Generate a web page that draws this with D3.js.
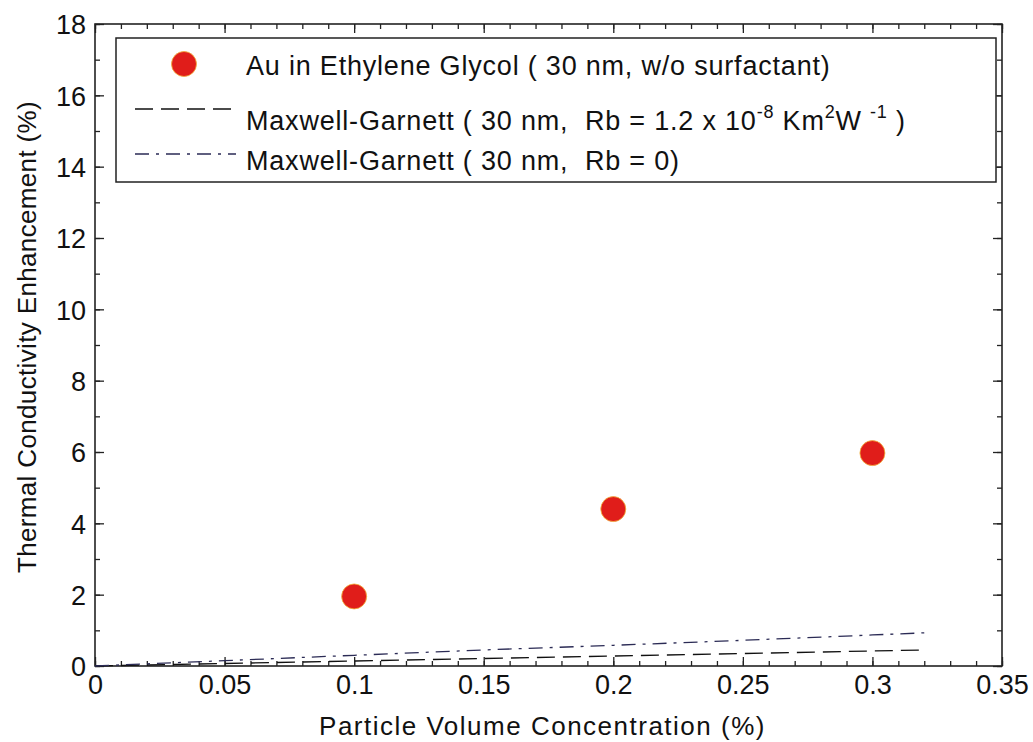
<!DOCTYPE html>
<html>
<head>
<meta charset="utf-8">
<script src="https://cdn.jsdelivr.net/npm/d3@7"></script>
<style>
  html, body { margin: 0; padding: 0; background: #fff; }
  svg { display: block; font-family: "Liberation Sans", Arial, Helvetica, sans-serif; }
</style>
</head>
<body>
<svg id="chart" width="1033" height="742"></svg>
<script>
// ---- data ----
const expX = [0.1, 0.2, 0.3];
const expY = [1.95, 4.4, 5.97];

const mgX = [0, 0.05, 0.1, 0.15, 0.2, 0.25, 0.3, 0.32];
const mgRbY = [0, 0.07, 0.14, 0.21, 0.28, 0.35, 0.42, 0.45];   // Rb = 1.2e-8
const mgZeroY = [0, 0.15, 0.3, 0.45, 0.58, 0.72, 0.87, 0.93]; // Rb = 0

const xTicks = [0, 0.05, 0.1, 0.15, 0.2, 0.25, 0.3, 0.35];
const xTickLabels = ["0", "0.05", "0.1", "0.15", "0.2", "0.25", "0.3", "0.35"];
const yTicks = [0, 2, 4, 6, 8, 10, 12, 14, 16, 18];

const xTitle = "Particle Volume Concentration (%)";
const yTitle = "Thermal Conductivity Enhancement (%)";

// ---- layout ----
const L = 95, R = 1002, T = 24, B = 666;
const svg = d3.select("#chart");
const x = d3.scaleLinear().domain([0, 0.35]).range([L, R]);
const y = d3.scaleLinear().domain([0, 18]).range([B, T]);

const minorX = d3.range(0, 36).map(i => i / 100);
const minorY = d3.range(0, 19);

function styleAxis(g) {
  g.select(".domain").remove();
  g.selectAll(".tick line").attr("stroke", "#222").attr("stroke-width", 1.3);
}

// minor ticks
svg.append("g").attr("transform", `translate(0,${B})`)
  .call(d3.axisBottom(x).tickValues(minorX).tickSize(-5).tickFormat(""))
  .call(styleAxis);
svg.append("g").attr("transform", `translate(0,${T})`)
  .call(d3.axisTop(x).tickValues(minorX).tickSize(-5).tickFormat(""))
  .call(styleAxis);
svg.append("g").attr("transform", `translate(${L},0)`)
  .call(d3.axisLeft(y).tickValues(minorY).tickSize(-5).tickFormat(""))
  .call(styleAxis);
svg.append("g").attr("transform", `translate(${R},0)`)
  .call(d3.axisRight(y).tickValues(minorY).tickSize(-5).tickFormat(""))
  .call(styleAxis);

// major ticks
const xb = svg.append("g").attr("transform", `translate(0,${B})`)
  .call(d3.axisBottom(x).tickValues(xTicks).tickSize(-9).tickFormat((d, i) => xTickLabels[i]))
  .call(styleAxis);
xb.selectAll(".tick text").attr("y", 28).attr("dy", 0)
  .attr("font-size", 27).attr("fill", "#111").attr("font-family", "Liberation Sans, Arial, sans-serif");

svg.append("g").attr("transform", `translate(0,${T})`)
  .call(d3.axisTop(x).tickValues(xTicks).tickSize(-9).tickFormat(""))
  .call(styleAxis);

const yl = svg.append("g").attr("transform", `translate(${L},0)`)
  .call(d3.axisLeft(y).tickValues(yTicks).tickSize(-9).tickFormat(d3.format("d")))
  .call(styleAxis);
yl.selectAll(".tick text").attr("x", -9).attr("dy", "0.36em")
  .attr("font-size", 27).attr("fill", "#111").attr("font-family", "Liberation Sans, Arial, sans-serif");

svg.append("g").attr("transform", `translate(${R},0)`)
  .call(d3.axisRight(y).tickValues(yTicks).tickSize(-9).tickFormat(""))
  .call(styleAxis);

// frame
svg.append("rect").attr("x", L).attr("y", T).attr("width", R - L).attr("height", B - T)
  .attr("fill", "none").attr("stroke", "#222").attr("stroke-width", 1.6);

// lines
const line = d3.line().x(d => x(d[0])).y(d => y(d[1]));
svg.append("path").datum(mgX.map((v, i) => [v, mgRbY[i]]))
  .attr("d", line).attr("fill", "none").attr("stroke", "#111").attr("stroke-width", 1.3)
  .attr("stroke-dasharray", "18,8");
svg.append("path").datum(mgX.map((v, i) => [v, mgZeroY[i]]))
  .attr("d", line).attr("fill", "none").attr("stroke", "#2b2b55").attr("stroke-width", 1.3)
  .attr("stroke-dasharray", "14,7,3,7");

// points
svg.append("g").selectAll("circle").data(expX.map((v, i) => [v, expY[i]]))
  .join("circle")
  .attr("cx", d => x(d[0])).attr("cy", d => y(d[1])).attr("r", 12.5)
  .attr("fill", "#e01d1a").attr("stroke", "#f3b23a").attr("stroke-width", 0.8);

// legend
const lg = svg.append("g");
lg.append("rect").attr("x", 116).attr("y", 38).attr("width", 880).attr("height", 144)
  .attr("fill", "#fff").attr("stroke", "#222").attr("stroke-width", 1.5);
lg.append("circle").attr("cx", 184).attr("cy", 64).attr("r", 12.5)
  .attr("fill", "#e01d1a").attr("stroke", "#f3b23a").attr("stroke-width", 0.8);
lg.append("line").attr("x1", 135).attr("x2", 236).attr("y1", 109).attr("y2", 109)
  .attr("stroke", "#111").attr("stroke-width", 1.3).attr("stroke-dasharray", "18,8");
lg.append("line").attr("x1", 135).attr("x2", 236).attr("y1", 154).attr("y2", 154)
  .attr("stroke", "#2b2b55").attr("stroke-width", 1.3).attr("stroke-dasharray", "14,7,3,7");

const fs = 27, ls = 0.8;
lg.append("text").attr("x", 246).attr("y", 75).attr("font-size", fs).attr("letter-spacing", ls)
  .attr("fill", "#111")
  .text("Au in Ethylene Glycol ( 30 nm, w/o surfactant)");

const t2 = lg.append("text").attr("x", 246).attr("y", 130).attr("font-size", fs).attr("letter-spacing", ls)
  .attr("fill", "#111").attr("xml:space", "preserve");
t2.append("tspan").text("Maxwell-Garnett ( 30 nm,  Rb = 1.2 x 10");
t2.append("tspan").attr("dy", -12).attr("font-size", 18).text("-8");
t2.append("tspan").attr("dy", 12).text(" Km");
t2.append("tspan").attr("dy", -12).attr("font-size", 18).text("2");
t2.append("tspan").attr("dy", 12).text("W ");
t2.append("tspan").attr("dy", -12).attr("font-size", 18).text("-1");
t2.append("tspan").attr("dy", 12).text(" )");

lg.append("text").attr("x", 246).attr("y", 170).attr("font-size", fs).attr("letter-spacing", ls)
  .attr("fill", "#111").attr("xml:space", "preserve")
  .text("Maxwell-Garnett ( 30 nm,  Rb = 0)");

// axis titles
svg.append("text").attr("x", (L + R) / 2 - 6).attr("y", 735).attr("text-anchor", "middle")
  .attr("font-size", 26).attr("letter-spacing", 1.5).attr("fill", "#111").text(xTitle);
svg.append("text").attr("transform", `translate(36,${(T + B) / 2 - 8}) rotate(-90)`)
  .attr("text-anchor", "middle").attr("font-size", 26).attr("letter-spacing", 0.35)
  .attr("fill", "#111").text(yTitle);
</script>
</body>
</html>
